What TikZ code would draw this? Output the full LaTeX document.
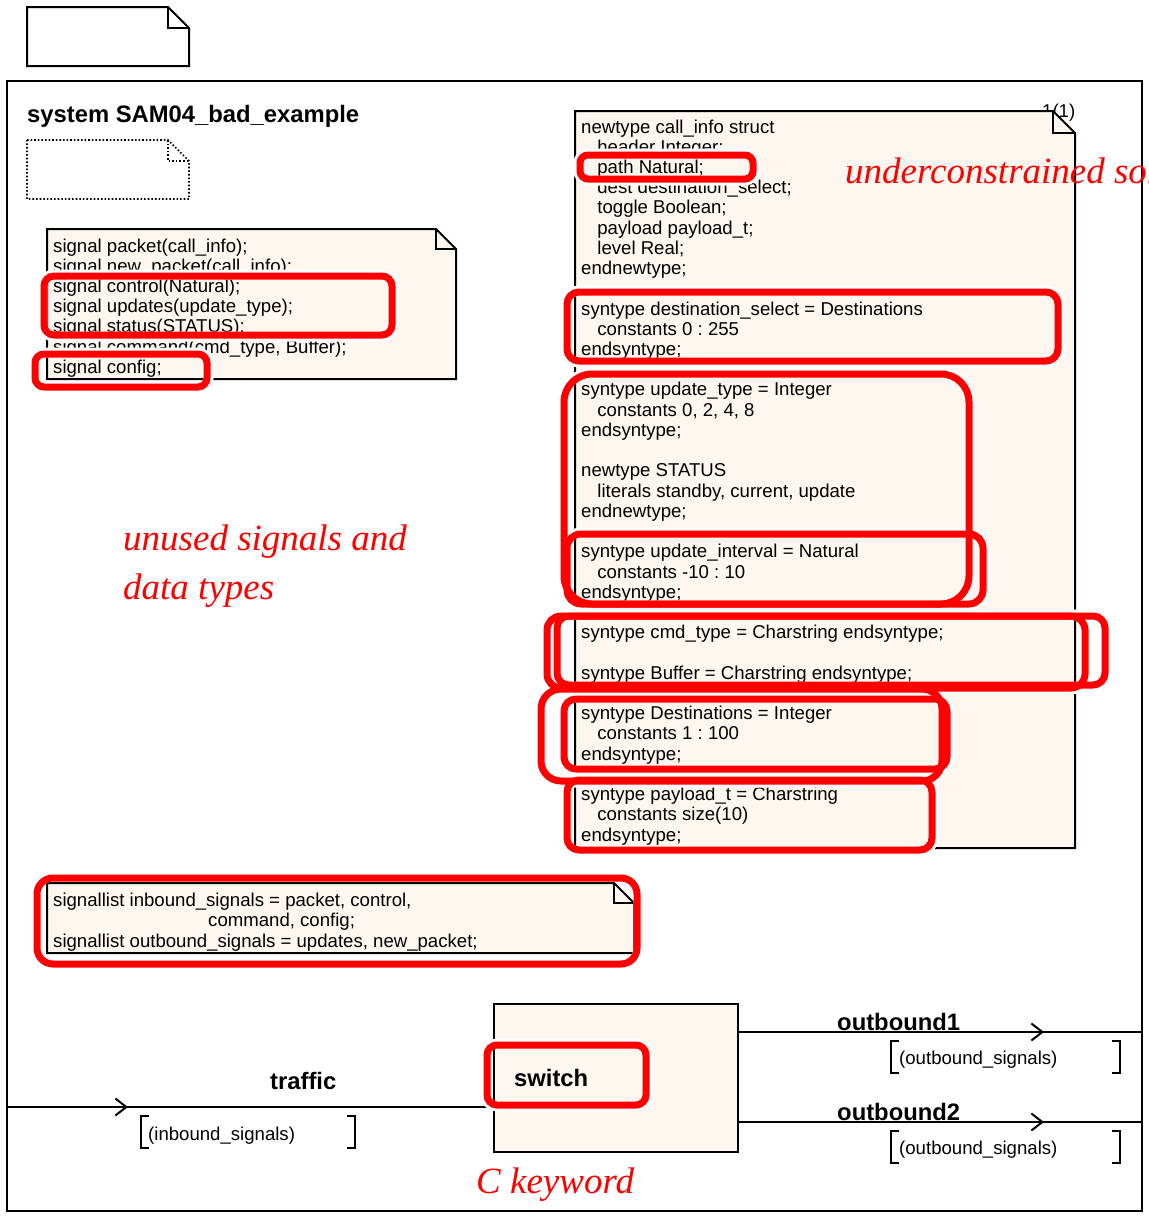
\documentclass[tikz,border=0pt]{standalone}
\usepackage{fontspec}
\setsansfont{Liberation Sans}
\newfontfamily\remarkfont{Liberation Serif}
\frenchspacing
\usetikzlibrary{arrows.meta,decorations.markings}
\definecolor{notefill}{RGB}{253,247,240}
\definecolor{hlred}{RGB}{255,0,0}

\tikzset{
  body/.style={font=\sffamily\fontsize{18.6}{20.2}\selectfont, anchor=base west, inner sep=0pt},
  boldlabel/.style={font=\sffamily\bfseries\fontsize{23.8}{28}\selectfont, anchor=base west, inner sep=0pt},
  remark/.style={font=\remarkfont\itshape\fontsize{37}{41}\selectfont, text=hlred, anchor=base west, inner sep=0pt},
  noteline/.style={draw=black, line width=2pt, line join=miter},
  chan/.style={draw=black, line width=2pt},
  barb/.style={postaction={decorate, decoration={markings,
      mark=at position #1 with {\arrow{Straight Barb[length=11pt,width=17pt]}}}}},
  halo/.style={draw=white, line width=10pt},
  marker/.style={draw=hlred, line width=7pt},
}

% SDL text symbol: rectangle with a folded top-right corner
\newcommand\sdlnote[6]{%
  \path[#1] (#2,#3) -- ({#4-#6},#3) -- (#4,{#3+#6}) -- (#4,#5) -- (#2,#5) -- cycle;
  \draw[#1,fill=none] ({#4-#6},#3) -- ({#4-#6},{#3+#6}) -- (#4,{#3+#6});}

% signal list brackets under a channel
\newcommand\sigbracket[4]{%
  \draw[line width=2pt] ({#1+8},#3) -- (#1,#3) -- (#1,#4) -- ({#1+8},#4);
  \draw[line width=2pt] ({#2-8},#3) -- (#2,#3) -- (#2,#4) -- ({#2-8},#4);}

\newcommand\ind{\hspace*{16.2pt}}

% highlight frames: x1/y1/x2/y2/corner radius
\def\marklist{580/155/753/179/8, 44/276/392/335/10, 35/354/207/387/9,
  567/292/1058/361/12, 564/374/969/604/28, 567/534/983/604/14,
  547/616/1085/688/14, 557/616/1105/685/12, 541/689/942/781/20,
  564/699/947/769/12, 567/780/932/850/12, 37/878/637/964/16,
  487/1045/646/1105/10}

\begin{document}
\begin{tikzpicture}[x=1pt,y=-1pt]
\useasboundingbox (0,0) rectangle (1149,1216);

% page symbol above the frame
\sdlnote{draw=black,fill=white,line width=2pt}{27}{7}{189}{66}{21}

% system frame
\draw[line width=2pt] (7,81) rectangle (1142,1211);
\node[boldlabel] (title) at (27,122) {system SAM04\_bad\_example};
\node[body] (pagenum) at (1042,117) {1(1)};

% empty dotted text symbol
\sdlnote{draw=black,dotted,line width=1.6pt}{27}{140}{189}{199}{21}

% signal declarations
\sdlnote{noteline,fill=notefill}{47}{229}{456}{379}{20}
\foreach \t [count=\i] in {{signal packet(call\_info);},
    {signal new\_packet(call\_info);},
    {signal control(Natural);},
    {signal updates(update\_type);},
    {signal status(STATUS);},
    {signal command(cmd\_type, Buffer);},
    {signal config;}}
  \node[body] (sig-\i) at (53,{252+20.2*(\i-1)}) {\t};

% data type declarations
\sdlnote{noteline,fill=notefill}{575}{111}{1075}{848}{22}
\foreach \t [count=\i] in {{newtype call\_info struct},
    {\ind header Integer;},
    {\ind path Natural;},
    {\ind dest destination\_select;},
    {\ind toggle Boolean;},
    {\ind payload payload\_t;},
    {\ind level Real;},
    {endnewtype;},
    {},
    {syntype destination\_select = Destinations},
    {\ind constants 0 : 255},
    {endsyntype;},
    {},
    {syntype update\_type = Integer},
    {\ind constants 0, 2, 4, 8},
    {endsyntype;},
    {},
    {newtype STATUS},
    {\ind literals standby, current, update},
    {endnewtype;},
    {},
    {syntype update\_interval = Natural},
    {\ind constants -10 : 10},
    {endsyntype;},
    {},
    {syntype cmd\_type = Charstring endsyntype;},
    {},
    {syntype Buffer = Charstring endsyntype;},
    {},
    {syntype Destinations = Integer},
    {\ind constants 1 : 100},
    {endsyntype;},
    {},
    {syntype payload\_t = Charstring},
    {\ind constants size(10)},
    {endsyntype;}}
  \node[body] (typ-\i) at (581,{133+20.23*(\i-1)}) {\t};

% signal lists
\sdlnote{noteline,fill=notefill}{47}{883}{634}{953}{20}
\node[body] (sl-1) at (53,906.5) {signallist inbound\_signals = packet, control,};
\node[body] (sl-2) at (208,926.8) {command, config;};
\node[body] (sl-3) at (53,947) {signallist outbound\_signals = updates, new\_packet;};

% block and channels
\node[draw=black, fill=notefill, line width=2pt, anchor=north west,
      minimum width=244pt, minimum height=148pt, inner sep=0pt] (sw) at (493,1003) {};
\node[boldlabel] (swname) at (514,1086) {switch};

\coordinate (tin) at (7,1107);
\coordinate (o1) at (1142,1032);
\coordinate (o2) at (1142,1122);

\draw[chan, barb=121pt] (tin) -- (tin -| sw.west);
\draw[chan, barb=305pt] (o1 -| sw.east) -- (o1);
\draw[chan, barb=305pt] (o2 -| sw.east) -- (o2);

\node[boldlabel] (lt) at (270,1089) {traffic};
\node[boldlabel] (lo1) at (837,1030) {outbound1};
\node[boldlabel] (lo2) at (837,1120) {outbound2};

\sigbracket{141}{355}{1116}{1148}
\node[body] (st) at (148,1140) {(inbound\_signals)};
\sigbracket{891}{1120}{1041}{1073}
\node[body] (so1) at (899,1064) {(outbound\_signals)};
\sigbracket{891}{1120}{1131}{1163}
\node[body] (so2) at (899,1154) {(outbound\_signals)};

% review markings
\foreach \a/\b/\c/\d/\r in \marklist
  \draw[halo, rounded corners={\r pt+1.5pt}] ({\a-1.5},{\b-1.5}) rectangle ({\c+1.5},{\d+1.5});
\foreach \a/\b/\c/\d/\r in \marklist
  \draw[marker, rounded corners=\r pt] (\a,\b) rectangle (\c,\d);

\node[remark] (rm-1) at (845,183) {underconstrained sorts};
\node[remark] (rm-2) at (123,550) {unused signals and};
\node[remark] (rm-3) at (123,599) {data types};
\node[remark] (rm-4) at (476,1193) {C keyword};
\end{tikzpicture}
\end{document}
